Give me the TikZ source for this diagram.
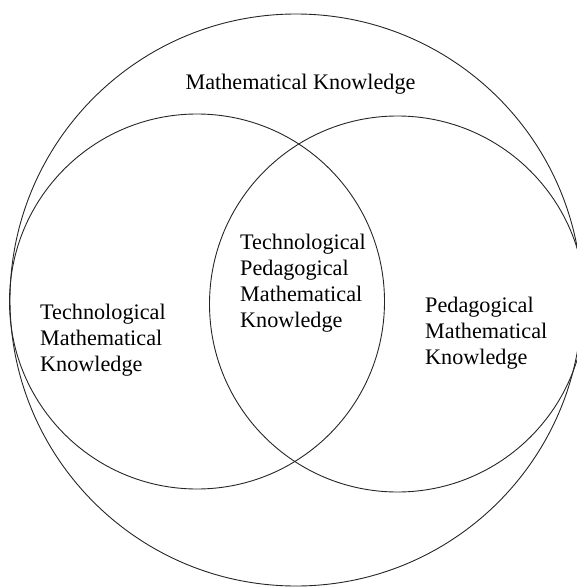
\documentclass[tikz,border=0pt]{standalone}
\usepackage{fontspec}
\setmainfont{Liberation Serif}
\begin{document}
\begin{tikzpicture}[x=1pt,y=-1pt,
  ring/.style={draw=black!85,line width=0.9pt},
  lbl/.style={inner sep=0pt,align=left,anchor=base west,
    font=\fontsize{22.2}{25.7}\selectfont}]
\useasboundingbox (0,0) rectangle (577,588);
\begin{scope}
\clip (0,0) rectangle (577,588);
\draw[ring] (296,300) circle[radius=286];
\draw[ring] (197,301.5) circle[radius=187.5];
\draw[ring] (397.5,304) circle[radius=188];
\end{scope}
\node[lbl,anchor=base] (mk) at (300.5,90) {Mathematical Knowledge};
\node[lbl] (tmk) at (40,371) {Technological\\Mathematical\\Knowledge};
\node[lbl] (tpmk) at (240,327) {Technological\\Pedagogical\\Mathematical\\Knowledge};
\node[lbl] (pmk) at (425,364) {Pedagogical\\Mathematical\\Knowledge};
\end{tikzpicture}
\end{document}
